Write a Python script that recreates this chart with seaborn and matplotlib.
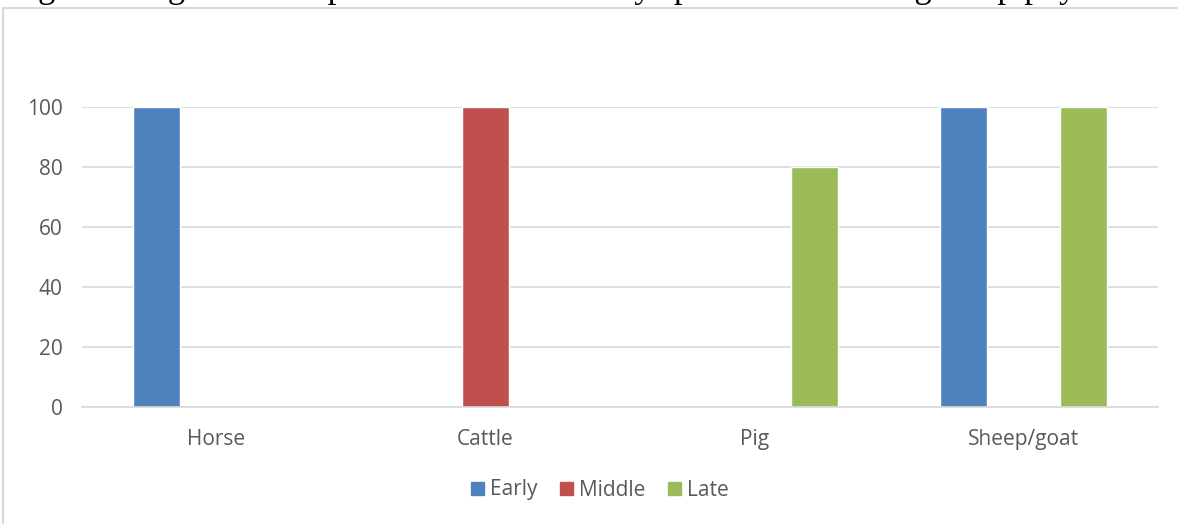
import matplotlib
matplotlib.use("Agg")
import matplotlib.pyplot as plt
import matplotlib.patches as mpatches
import seaborn as sns
import pandas as pd

# Age-at-death profile values (%) per taxon and fusion stage
categories = ["Horse", "Cattle", "Pig", "Sheep/goat"]
stages = ["Early", "Middle", "Late"]
early = [100, 0, 0, 100]
middle = [0, 100, 0, 0]
late = [0, 0, 80, 100]
colors = ["#4F81BD", "#C0504D", "#9BBB59"]
yticks = [0, 20, 40, 60, 80, 100]
caption = "Figure 6: Age at death profiles as indicated by specimens showing an epiphyseal fusion"

rows = []
for stage, vals in zip(stages, [early, middle, late]):
    for cat, v in zip(categories, vals):
        rows.append({"Taxon": cat, "Stage": stage, "Value": v})
df = pd.DataFrame(rows)

sns.set_theme(style="white")
plt.rcParams["font.family"] = ["Open Sans", "DejaVu Sans"]

W, H = 1178, 524
fig = plt.figure(figsize=(W / 100, H / 100), dpi=100)
ax = fig.add_axes([82 / W, (H - 407) / H, 1076 / W, 300 / H])

sns.barplot(data=df, x="Taxon", y="Value", hue="Stage", order=categories,
            hue_order=stages, palette=colors, width=0.664, gap=0.21,
            saturation=1, errorbar=None, ax=ax, legend=False)

ax.set_ylim(0, 100)
ax.set_xlim(-0.5, len(categories) - 0.5)
ax.set_yticks(yticks)
ax.yaxis.grid(True, color="#d9d9d9", linewidth=1.2)
ax.set_axisbelow(True)
for s in ["left", "right", "top"]:
    ax.spines[s].set_visible(False)
ax.spines["bottom"].set_color("#d9d9d9")
ax.spines["bottom"].set_linewidth(1.2)
ax.set_xlabel("")
ax.set_ylabel("")
ax.tick_params(axis="both", length=0, labelsize=15, labelcolor="#595959")
ax.tick_params(axis="y", pad=14)
ax.tick_params(axis="x", pad=16)

handles = [mpatches.Patch(color=c, label=s) for s, c in zip(stages, colors)]
fig.legend(handles=handles, loc="center", bbox_to_anchor=(600 / W, (H - 490) / H),
           ncol=3, frameon=False, fontsize=15, handlelength=0.6, handleheight=0.6,
           handletextpad=0.3, columnspacing=1.1, labelcolor="#595959")

# Chart frame
frame = mpatches.Rectangle((3 / W, -0.1), 1.2, (H - 8) / H + 0.1,
                           transform=fig.transFigure, fill=False,
                           edgecolor="#d9d9d9", linewidth=1.5, clip_on=False)
fig.patches.append(frame)

# Caption line from the page above the chart
fig.text(9 / W, (H + 3) / H, caption, family="Liberation Serif", fontsize=25,
         color="black", va="baseline", ha="left")

fig.savefig("out.png", dpi=100)
